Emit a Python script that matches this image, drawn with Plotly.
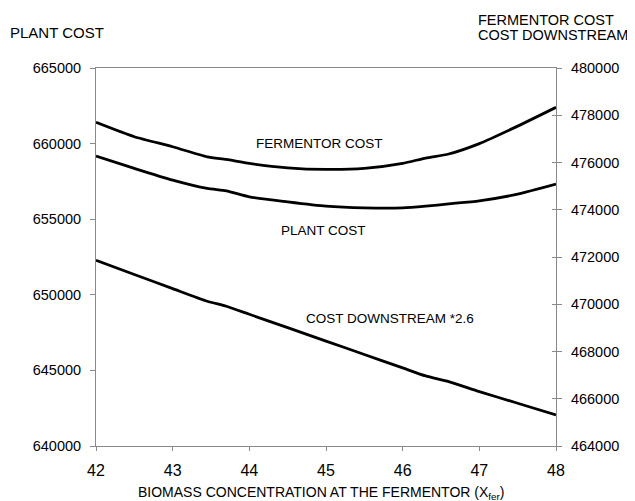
import plotly.graph_objects as go

# ---- data ----
x_biomass = [42, 42.5, 43, 43.45, 43.7, 44, 44.5, 45, 45.5, 46, 46.3, 46.6, 47, 47.5, 48]
fermentor_cost = [477700, 477090, 476667, 476240, 476130, 475962, 475776, 475708,
                  475750, 475962, 476190, 476360, 476800, 477540, 478335]
plant_cost = [659172, 658358, 657583, 657033, 656874, 656477, 656146, 655861,
              655748, 655748, 655861, 656013, 656212, 656656, 657318]
downstream_cost = [471864, 471260, 470660, 470127, 469915, 469575, 469008, 468440,
                   467873, 467306, 466966, 466724, 466300, 465810, 465313]

x_ticks = [42, 43, 44, 45, 46, 47, 48]
left_ticks = [640000, 645000, 650000, 655000, 660000, 665000]
right_ticks = [464000, 466000, 468000, 470000, 472000, 474000, 476000, 478000, 480000]

FONT = "Liberation Sans, Arial, Helvetica, sans-serif"
LINE_W = 2.8
AXIS_COL = "#8a8a8a"

fig = go.Figure()
fig.add_trace(go.Scatter(x=x_biomass, y=fermentor_cost, yaxis="y2", mode="lines",
                         line=dict(color="black", width=LINE_W, shape="spline", smoothing=0.6),
                         name="FERMENTOR COST", showlegend=False))
fig.add_trace(go.Scatter(x=x_biomass, y=plant_cost, yaxis="y", mode="lines",
                         line=dict(color="black", width=LINE_W, shape="spline", smoothing=0.6),
                         name="PLANT COST", showlegend=False))
fig.add_trace(go.Scatter(x=x_biomass, y=downstream_cost, yaxis="y2", mode="lines",
                         line=dict(color="black", width=LINE_W, shape="spline", smoothing=0.6),
                         name="COST DOWNSTREAM *2.6", showlegend=False))
# invisible carrier so the inner half of the right-axis "+" ticks gets drawn
fig.add_trace(go.Scatter(x=x_biomass, y=downstream_cost, yaxis="y3", mode="markers",
                         marker=dict(opacity=0), hoverinfo="skip", showlegend=False))

annots = [
    dict(text="FERMENTOR COST", x=44.92, y=476822, xref="x", yref="y2",
         showarrow=False, font=dict(size=13.5)),
    dict(text="PLANT COST", x=44.97, y=654272, xref="x", yref="y",
         showarrow=False, font=dict(size=13.5)),
    dict(text="COST DOWNSTREAM *2.6", x=45.83, y=469407, xref="x", yref="y2",
         showarrow=False, font=dict(size=13.5)),
    dict(text="PLANT COST", x=-0.1913, y=1.0926, xref="paper", yref="paper",
         xanchor="left", yanchor="middle", showarrow=False, font=dict(size=15)),
    dict(text="FERMENTOR COST", x=0.8254, y=1.1265, xref="paper", yref="paper",
         xanchor="left", yanchor="middle", showarrow=False, font=dict(size=14.5)),
    dict(text="COST DOWNSTREAM", x=0.8254, y=1.0860, xref="paper", yref="paper",
         xanchor="left", yanchor="middle", showarrow=False, font=dict(size=14.5)),
    dict(text="BIOMASS CONCENTRATION AT THE FERMENTOR (X<sub>fer</sub>)",
         x=0.49, y=-0.1243, xref="paper", yref="paper",
         xanchor="center", yanchor="middle", showarrow=False, font=dict(size=14)),
]

# the page body has an 8px margin, so the figure is 8px smaller and its
# left/top margins 8px smaller to keep the plot area where the reference has it
fig.update_layout(
    width=627, height=493,
    margin=dict(l=88, r=79, t=60, b=55, pad=0),
    paper_bgcolor="white", plot_bgcolor="white",
    font=dict(family=FONT, color="black", size=15),
    annotations=annots,
    xaxis=dict(range=[42, 48], tickvals=x_ticks, ticktext=[str(v) for v in x_ticks],
               showgrid=False, zeroline=False, showline=True, linecolor=AXIS_COL,
               linewidth=1, mirror=True, ticks="outside", ticklen=4, tickcolor=AXIS_COL,
               tickfont=dict(size=16), ticklabelstandoff=6),
    yaxis=dict(range=[640000, 665000], tickvals=left_ticks,
               ticktext=[str(v) for v in left_ticks],
               showgrid=False, zeroline=False, showline=True, linecolor=AXIS_COL,
               linewidth=1, ticks="outside", ticklen=5, tickcolor=AXIS_COL,
               tickfont=dict(size=14.5), ticklabelstandoff=6),
    yaxis2=dict(range=[464000, 480000], tickvals=right_ticks,
                ticktext=[str(v) for v in right_ticks],
                overlaying="y", side="right",
                showgrid=False, zeroline=False, showline=True, linecolor=AXIS_COL,
                linewidth=1, ticks="outside", ticklen=5, tickcolor=AXIS_COL,
                tickfont=dict(size=14.5), ticklabelstandoff=6),
    yaxis3=dict(range=[464000, 480000], tickvals=right_ticks,
                overlaying="y", side="right", showticklabels=False,
                showgrid=False, zeroline=False, showline=False,
                ticks="inside", ticklen=4, tickcolor=AXIS_COL),
)

fig.write_html("out.html")
